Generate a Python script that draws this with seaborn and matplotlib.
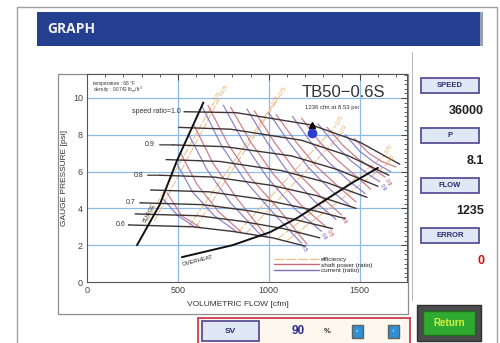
import matplotlib
matplotlib.use("Agg")
import pandas as pd
import matplotlib.pyplot as plt
from matplotlib.patches import Rectangle
from matplotlib.lines import Line2D
from matplotlib.ticker import MultipleLocator
import seaborn as sns

# speed lines (flow in cfm, gauge pressure in psi)
speed_ratio = [1.0, 0.95, 0.9, 0.85, 0.8, 0.75, 0.7, 0.65, 0.6]
speed_flow = [
    [540, 820, 1236, 1500, 1720],
    [505, 790, 1180, 1440, 1660],
    [470, 760, 1125, 1380, 1600],
    [435, 730, 1070, 1320, 1540],
    [400, 700, 1015, 1260, 1480],
    [350, 670, 960, 1200, 1420],
    [300, 640, 905, 1140, 1350],
    [265, 610, 850, 1080, 1280],
    [230, 580, 800, 1020, 1200],
]
speed_psi = [
    [9.25, 9.2, 8.53, 7.6, 6.4],
    [8.4, 8.3, 7.7, 6.85, 5.8],
    [7.45, 7.35, 6.85, 6.1, 5.2],
    [6.65, 6.55, 6.05, 5.4, 4.6],
    [5.8, 5.7, 5.25, 4.7, 4.0],
    [5.0, 4.9, 4.5, 4.0, 3.45],
    [4.3, 4.2, 3.85, 3.4, 2.9],
    [3.7, 3.6, 3.3, 2.9, 2.4],
    [3.1, 3.0, 2.75, 2.4, 1.95],
]
speed_label_idx = [0, 2, 4, 6, 8]
speed_label_text = ["speed ratio=1.0", "0.9", "0.8", "0.7", "0.6"]
speed_label_flow = [515, 374, 308, 264, 209]

surge_flow = [275, 400, 495, 640]
surge_psi = [2.0, 4.2, 6.6, 9.75]
overheat_flow = [522, 800, 1005, 1160, 1460, 1600]
overheat_psi = [1.35, 2.0, 2.7, 3.5, 5.4, 6.2]

# current (ratio) lines
cur_flow = [
    [420, 500, 600],
    [490, 580, 700, 820],
    [560, 660, 790, 960],
    [630, 740, 870, 1020, 1180],
    [750, 860, 990, 1140, 1290],
    [880, 990, 1110, 1250, 1370],
    [1000, 1110, 1220, 1340, 1450],
    [1130, 1230, 1330, 1440, 1530],
    [1270, 1360, 1450, 1540, 1610],
    [1420, 1500, 1580, 1670],
]
cur_psi = [
    [4.5, 3.6, 2.95],
    [6.5, 4.9, 3.6, 2.75],
    [8.0, 6.1, 4.3, 2.5],
    [9.6, 7.4, 5.5, 3.8, 2.1],
    [9.6, 7.6, 5.7, 4.0, 2.75],
    [9.4, 7.6, 5.9, 4.4, 3.4],
    [9.2, 7.6, 6.2, 5.0, 4.1],
    [9.0, 7.6, 6.5, 5.5, 4.8],
    [8.6, 7.5, 6.6, 5.9, 5.45],
    [8.0, 7.1, 6.5, 6.0],
]
# shaft power (ratio) lines
pow_flow = [
    [440, 520, 625],
    [515, 605, 725, 850],
    [590, 690, 820, 990],
    [665, 775, 905, 1055, 1210],
    [790, 900, 1030, 1180, 1320],
    [920, 1030, 1150, 1290, 1400],
    [1040, 1150, 1260, 1380, 1480],
    [1180, 1280, 1380, 1480, 1560],
    [1320, 1410, 1490, 1580, 1640],
    [1470, 1550, 1620, 1700],
]
pow_psi = [
    [4.85, 3.6, 2.95],
    [7.0, 5.3, 3.8, 2.7],
    [8.5, 6.5, 4.6, 2.45],
    [9.6, 7.5, 5.6, 3.95, 2.05],
    [9.5, 7.6, 5.8, 4.15, 2.95],
    [9.3, 7.6, 6.0, 4.6, 3.65],
    [9.1, 7.6, 6.3, 5.2, 4.35],
    [8.9, 7.6, 6.6, 5.75, 5.05],
    [8.4, 7.4, 6.7, 6.1, 5.7],
    [7.8, 7.0, 6.55, 6.25],
]
cur_tag_idx = [3, 4, 8]
cur_tag_text = ["0.5", "0.6", "0.9"]
pow_tag_idx = [4, 5, 8]
pow_tag_text = ["0.5", "0.6", "0.9"]

# efficiency lines
eff_flow = [[330, 700], [370, 740], [560, 1020], [600, 1060],
            [830, 1370], [870, 1395], [1050, 1640], [1100, 1650]]
eff_psi = [[3.3, 9.8], [3.3, 10.2], [3.0, 9.6], [3.0, 10.1],
           [2.7, 8.5], [2.6, 8.0], [2.35, 6.9], [2.25, 6.4]]
eff_text = ["0.70", "0.75", "0.72", "0.75", "0.75", "0.72", "0.70", "0.65"]

design_flow, design_psi = 1236, 8.53
meas_flow, meas_psi = 1235, 8.1

panel_names = ["SPEED", "P", "FLOW", "ERROR"]
panel_values = ["36000", "8.1", "1235", "0"]
sv_value = "90"


def long_frame(xs, ps):
    rows = []
    for i, (xv, pv) in enumerate(zip(xs, ps)):
        for a, b in zip(xv, pv):
            rows.append((i, a, b))
    return pd.DataFrame(rows, columns=["line", "flow", "psi"])


sns.set_theme(style="white")
plt.rcParams["font.family"] = ["Liberation Sans", "DejaVu Sans"]

fig = plt.figure(figsize=(5, 3.43), dpi=100)
fig.patch.set_facecolor("white")

# screen furniture, drawn in pixel coordinates
bg = fig.add_axes([0, 0, 1, 1])
bg.set_xlim(0, 500)
bg.set_ylim(343, 0)
bg.axis("off")
bg.add_patch(Rectangle((17, 7), 480, 345, fill=False, ec="#a0a0a0", lw=1))
bg.add_patch(Rectangle((37, 12), 445, 34, fc="#243f8f", ec="none"))
bg.add_patch(Rectangle((480, 12), 3, 34, fc="#9aa0b0", ec="none"))
bg.text(47, 29, "GRAPH", color="#f0f0f0", fontsize=10, fontweight="bold",
        family=["Open Sans", "DejaVu Sans"], va="center")
bg.add_patch(Rectangle((58, 74), 350, 240, fill=False, ec="#8c8c8c", lw=0.9))
bg.plot([412, 412], [52, 300], color="#b8b8b8", lw=0.8)

for k, (name, val) in enumerate(zip(panel_names, panel_values)):
    y0 = 78 + 50 * k
    bg.add_patch(Rectangle((421, y0), 58, 15, fc="#dfe8f5", ec="#5b4f96", lw=1.3))
    bg.text(450, y0 + 7.8, name, fontsize=5.5, fontweight="bold",
            color="#2d2a6e", ha="center", va="center")
    bg.text(484, y0 + 33, val, fontsize=9, fontweight="bold",
            color="#d01010" if name == "ERROR" else "#202020",
            ha="right", va="center")

bg.add_patch(Rectangle((198, 318), 212, 30, fc="#fdf7ee", ec="#cc3b4a", lw=1.3))
bg.add_patch(Rectangle((202, 321), 57, 20, fc="#dfe8f5", ec="#5b4f96", lw=1.3))
bg.text(230, 331.5, "SV", fontsize=6, fontweight="bold", color="#2d2a6e",
        ha="center", va="center")
bg.text(298, 331.5, sv_value, fontsize=8.5, fontweight="bold", color="#2d2a8e",
        ha="center", va="center")
bg.text(327, 331.5, "%", fontsize=5.5, fontweight="bold", color="#303030",
        ha="center", va="center")
for xb, t in [(352, "+1"), (388, "-1")]:
    bg.add_patch(Rectangle((xb, 325), 11, 13, fc="#2f8fd2", ec="#606060", lw=1))
    bg.text(xb + 5.5, 331.5, t, fontsize=2.8, color="#d8ecff",
            ha="center", va="center")
bg.add_patch(Rectangle((417, 305), 64, 36, fc="#4b4b4b", ec="#2e2e2e", lw=1))
bg.add_patch(Rectangle((423, 311), 52, 24, fc="#2faa30", ec="#1c6e1c", lw=1))
bg.text(449, 323.5, "Return", fontsize=7, fontweight="bold", color="#d6f040",
        ha="center", va="center")

# the chart itself
ax = fig.add_axes([87 / 500, 61 / 343, 320 / 500, 208 / 343])
ax.set_facecolor("white")
ax.set_xlim(0, 1760)
ax.set_ylim(0, 11.3)

for v in [500, 1000, 1500]:
    ax.axvline(v, color="#8dbbe6", lw=0.9, zorder=0)
for v in [2, 4, 6, 8, 10]:
    ax.axhline(v, color="#8dbbe6", lw=0.9, zorder=0)

eff_color = "#efc28e"
pow_color = "#c8687a"
cur_color = "#7f6fc0"
speed_color = "#3e3434"

sns.lineplot(data=long_frame(eff_flow, eff_psi), x="flow", y="psi", units="line",
             estimator=None, sort=False, color=eff_color, lw=0.8,
             linestyle=(0, (7, 1.5)), ax=ax, legend=False)
sns.lineplot(data=long_frame(pow_flow, pow_psi), x="flow", y="psi", units="line",
             estimator=None, sort=False, color=pow_color, lw=0.9, alpha=0.85,
             ax=ax, legend=False)
sns.lineplot(data=long_frame(cur_flow, cur_psi), x="flow", y="psi", units="line",
             estimator=None, sort=False, color=cur_color, lw=0.9, alpha=0.85,
             ax=ax, legend=False)
sns.lineplot(data=long_frame(speed_flow, speed_psi), x="flow", y="psi", units="line",
             estimator=None, sort=False, color=speed_color, lw=1.0,
             ax=ax, legend=False)
sns.lineplot(x=surge_flow, y=surge_psi, sort=False, color="#111111", lw=1.4, ax=ax)
sns.lineplot(x=overheat_flow, y=overheat_psi, sort=False, color="#111111", lw=1.4, ax=ax)

for i, t in zip(range(len(eff_text)), eff_text):
    ax.text(eff_flow[i][-1] + 20, eff_psi[i][-1] + 0.3, t, fontsize=3.6,
            color="#e0a050", rotation=60, ha="center", va="center")
for i, t in zip(cur_tag_idx, cur_tag_text):
    ax.text(cur_flow[i][-1] + 15, cur_psi[i][-1] - 0.3, t, fontsize=3.8,
            color="#5a48b0", rotation=-60, ha="center", va="center")
for i, t in zip(pow_tag_idx, pow_tag_text):
    ax.text(pow_flow[i][-1] + 15, pow_psi[i][-1] - 0.3, t, fontsize=3.8,
            color="#c03848", rotation=-60, ha="center", va="center")

for i, t, fx in zip(speed_label_idx, speed_label_text, speed_label_flow):
    ax.annotate(t, xy=(speed_flow[i][0], speed_psi[i][0]),
                xytext=(fx, speed_psi[i][0]), fontsize=5, color="#333333",
                ha="right", va="center",
                arrowprops=dict(arrowstyle="-", color=speed_color, lw=0.9,
                                shrinkA=1, shrinkB=0))

ax.text(345, 3.75, "SURGE", rotation=62, fontsize=4.2, color="#222222",
        ha="center", va="center")
ax.text(610, 1.15, "OVERHEAT", rotation=14, fontsize=4.2, color="#222222",
        ha="center", va="center")

ax.plot(design_flow, design_psi, marker="^", ms=4, color="black", ls="none")
ax.plot(meas_flow, meas_psi, marker="o", ms=6, color="#2a3fcc", ls="none")

ax.text(0.02, 0.955, "temperature : 68 °F", transform=ax.transAxes,
        fontsize=3.4, color="#333333", va="center")
ax.text(0.02, 0.922, "density : 0.0742 lb$_m$/ft$^3$", transform=ax.transAxes,
        fontsize=3.4, color="#333333", va="center")
ax.text(0.8, 0.91, "TB50\u22120.6S", transform=ax.transAxes, fontsize=12,
        color="#333333", ha="center", va="center")
ax.text(0.766, 0.837, "1236 cfm at 8.53 psi", transform=ax.transAxes,
        fontsize=4.3, color="#333333", ha="center", va="center")

ax.legend(handles=[
    Line2D([], [], color=eff_color, lw=1, linestyle=(0, (7, 1.5))),
    Line2D([], [], color=pow_color, lw=1),
    Line2D([], [], color=cur_color, lw=1),
], labels=["efficiency", "shaft power (ratio)", "current (ratio)"],
    loc="lower left", bbox_to_anchor=(0.57, 0.02), frameon=False,
    fontsize=4.6, handlelength=7, labelspacing=0.05, handletextpad=0.4,
    borderpad=0.2)

ax.xaxis.set_major_locator(MultipleLocator(500))
ax.xaxis.set_minor_locator(MultipleLocator(100))
ax.yaxis.set_major_locator(MultipleLocator(2))
ax.yaxis.set_minor_locator(MultipleLocator(0.25))
ax.tick_params(which="both", direction="in", top=True, right=True,
               labelsize=6.5, colors="#444444", pad=3)
ax.tick_params(which="major", length=4, width=0.7)
ax.tick_params(which="minor", length=2.2, width=0.6)
for s in ax.spines.values():
    s.set_color("#555555")
    s.set_linewidth(0.8)
ax.set_xlabel("VOLUMETRIC FLOW [cfm]", fontsize=6, color="#333333")
ax.set_ylabel("GAUGE PRESSURE [psi]", fontsize=6, color="#333333")
ax.xaxis.set_label_coords(0.47, -0.09)
ax.yaxis.set_label_coords(-0.06, 0.5)

fig.savefig("out.png", dpi=100)
